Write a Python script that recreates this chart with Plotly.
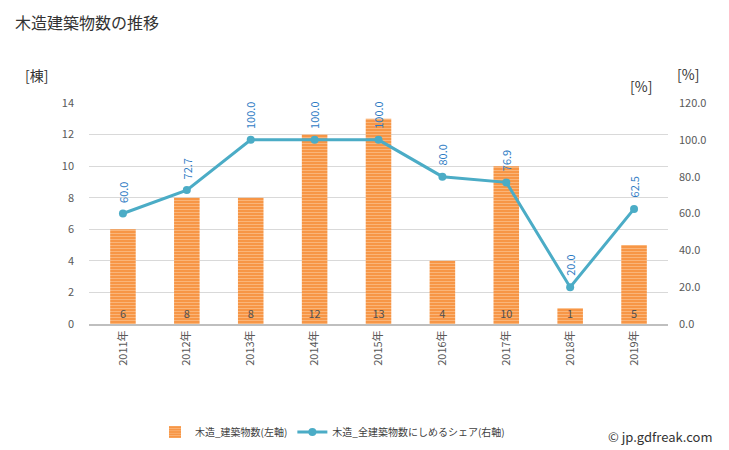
import plotly.graph_objects as go

years = ["2011年", "2012年", "2013年", "2014年", "2015年", "2016年", "2017年", "2018年", "2019年"]
counts = [6, 8, 8, 12, 13, 4, 10, 1, 5]
shares = [60.0, 72.7, 100.0, 100.0, 100.0, 80.0, 76.9, 20.0, 62.5]
left_ticks = [0, 2, 4, 6, 8, 10, 12, 14]
right_ticks = [0, 20, 40, 60, 80, 100, 120]

FONT = "Noto Sans CJK JP, Noto Sans, sans-serif"
W, H = 729, 450
L, R, T, B = 89, 668, 103, 324


def px(x):
    return (x - L) / (R - L)


def py(y):
    return (B - y) / (B - T)


fig = go.Figure()
fig.add_trace(go.Bar(
    x=years, y=counts, name="木造_建築物数(左軸)",
    marker=dict(color="#F79646", line=dict(width=0),
                pattern=dict(shape="-", fgcolor="#FDD3AC", bgcolor="#F79646", size=3, solidity=0.35)),
    text=[str(c) for c in counts], textposition="inside", insidetextanchor="start",
    constraintext="none",
    textfont=dict(size=11, color="#505050", family=FONT), textangle=0,
    width=0.4, yaxis="y",
))
fig.add_trace(go.Scatter(
    x=years, y=shares, name="木造_全建築物数にしめるシェア(右軸)",
    mode="lines+markers", line=dict(color="#4BACC6", width=3),
    marker=dict(color="#4BACC6", size=8), yaxis="y2",
))

for yr, s in zip(years, shares):
    fig.add_annotation(x=yr, y=s, xref="x", yref="y2", text=f"{s:.1f}", textangle=-90,
                       showarrow=False, yanchor="bottom", yshift=9,
                       font=dict(size=11, color="#2E7BC4", family=FONT))

fig.update_layout(
    width=W, height=H, paper_bgcolor="white", plot_bgcolor="white",
    margin=dict(l=L, r=W - R, t=T, b=H - B, autoexpand=False),
    font=dict(family=FONT, color="#595959"),
    bargap=0.6, showlegend=True,
    legend=dict(orientation="h", x=155 / W, xanchor="left", xref="container",
                y=1 - 432 / H, yanchor="middle", yref="container",
                font=dict(size=10, color="#404040", family=FONT)),
    xaxis=dict(tickangle=-90, tickfont=dict(size=11, color="#595959"), showgrid=False,
               showline=True, linecolor="#BFBFBF", linewidth=2, ticks="", automargin=False),
    yaxis=dict(range=[0, 14], tickvals=left_ticks, showgrid=True, gridcolor="#D9D9D9",
               tickfont=dict(size=11, color="#595959"), zeroline=False, ticklabelstandoff=14,
               automargin=False),
    yaxis2=dict(range=[0, 120], tickvals=right_ticks, ticktext=[f"{v:.1f}" for v in right_ticks],
                overlaying="y", side="right", showgrid=False, zeroline=False,
                tickfont=dict(size=11, color="#595959"), ticklabelstandoff=10, automargin=False),
)

fig.add_annotation(x=px(13), y=py(22), xref="paper", yref="paper", text="木造建築物数の推移",
                   showarrow=False, xanchor="left", yanchor="middle",
                   font=dict(size=16, color="#333333", family=FONT))
for label, x, y in [("[棟]", 36, 75), ("[%]", 641, 86), ("[%]", 688, 74)]:
    fig.add_annotation(xref="paper", yref="paper", x=px(x), y=py(y), text=label,
                       showarrow=False, xanchor="center", yanchor="middle",
                       font=dict(size=14, color="#333333", family=FONT))
fig.add_annotation(xref="paper", yref="paper", x=px(715), y=py(436),
                   text="© jp.gdfreak.com", showarrow=False, xanchor="right", yanchor="middle",
                   font=dict(size=13, color="#333333", family=FONT))

fig.write_html("out.html", config={"displayModeBar": False},
               post_script="document.body.style.margin='0';")
